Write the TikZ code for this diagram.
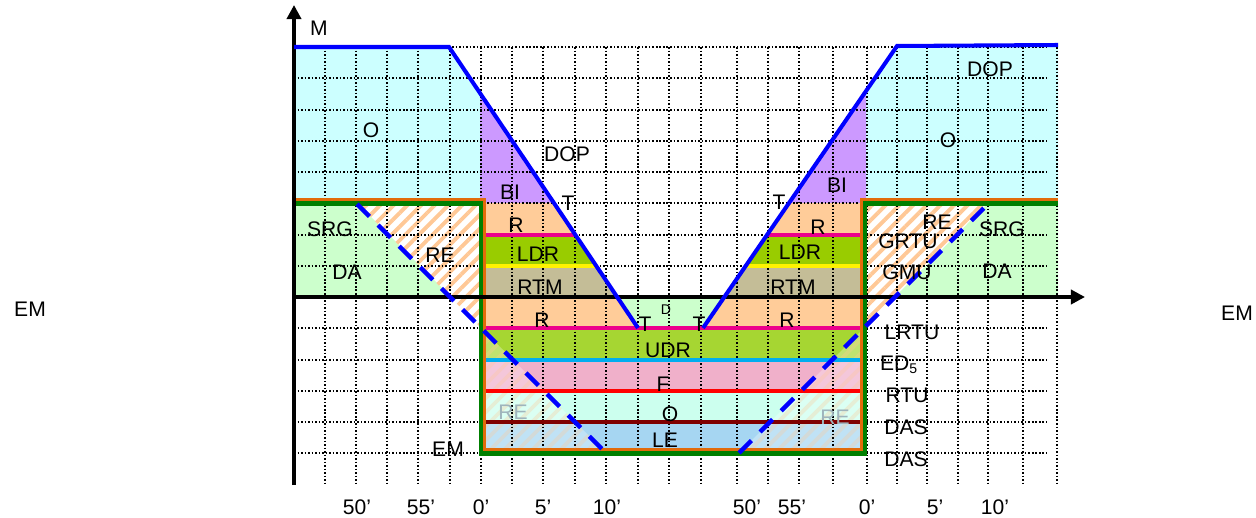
\documentclass[tikz,border=0pt]{standalone}
\usepackage{fontspec}
\setmainfont{Liberation Sans}
\usepackage{xcolor}
\usepackage{tikz}
\usetikzlibrary{arrows.meta}
\usetikzlibrary{patterns.meta}

\definecolor{zonecyan}{HTML}{CCFFFF}
\definecolor{zonepurple}{HTML}{CC99FF}
\definecolor{zonegreen}{HTML}{CCFFCC}
\definecolor{zonepeach}{HTML}{FFCC99}
\definecolor{zoneldr}{HTML}{99CC00}
\definecolor{zonertm}{HTML}{C4BD97}
\definecolor{zoneudr}{HTML}{A6D632}
\definecolor{zonepink}{HTML}{F0B0CA}
\definecolor{zonemint}{HTML}{CCFFEE}
\definecolor{zoneblue}{HTML}{A6D6F2}
\definecolor{hatchorange}{HTML}{FFC896}
\definecolor{edgeorange}{HTML}{E26B0A}
\definecolor{edgegreen}{HTML}{007F00}
\definecolor{faintlabel}{HTML}{9FB4BC}

\begin{document}
\begin{tikzpicture}[
    x=0.02cm, y=-0.02cm,
    % Zone fills
    hatch/.style={pattern={Lines[angle=45,distance=5.5pt,line width=2.2pt]}, pattern color=hatchorange},
    faint fill/.style={fill=white, fill opacity=0.3},
    faint stripe/.style={hatchorange, line width=2.2pt, draw opacity=0.3},
    % Grid and lines
    grid line/.style={dash pattern=on 0.9pt off 1.1pt, line width=0.8pt, black},
    band line/.style={line width=2pt},
    frame line/.style={line width=2.3pt},
    axis line/.style={line width=2.8pt, -{Triangle[length=8pt,width=8pt]}},
    limit line/.style={blue, line width=2.3pt},
    limit dash/.style={blue, line width=2.5pt, dash pattern=on 10pt off 7pt},
    % Labels
    zone label/.style={font=\fontsize{12}{14}\selectfont, inner sep=0pt},
    small label/.style={font=\fontsize{8}{10}\selectfont, inner sep=0pt}
  ]
  \useasboundingbox (0,0) rectangle (1256,517);

  % --- Zone fills ---
  \fill[zonecyan] (294,47) -- (449,47) -- (480,93.1) -- (480,203) -- (294,203) -- cycle;
  \fill[zonepurple] (480,93.1) -- (553.9,203) -- (480,203) -- cycle;
  \fill[zonecyan] (866,91.1) -- (897,46) -- (1058,45) -- (1058,203) -- (866,203) -- cycle;
  \fill[zonepurple] (866,91.1) -- (866,203) -- (789,203) -- cycle;
  \fill[zonegreen] (294,203) -- (357,203) -- (451,297) -- (294,297) -- cycle;
  \fill[zonegreen] (988,203) -- (1058,203) -- (1058,297) -- (895,297) -- cycle;
  \fill[hatch] (357,203) -- (480,203) -- (480,327) -- cycle;
  \fill[hatch] (988,203) -- (866,203) -- (866,326) -- cycle;

  % --- Centre bands ---
  \fill[zonepeach] (480,203) -- (553.9,203) -- (575.4,235) -- (480,235) -- cycle;
  \fill[zonepeach] (866,203) -- (789,203) -- (767,235) -- (866,235) -- cycle;
  \fill[zoneldr] (480,235) -- (575.4,235) -- (596.3,266) -- (480,266) -- cycle;
  \fill[zoneldr] (866,235) -- (767,235) -- (745.7,266) -- (866,266) -- cycle;
  \fill[zonertm] (480,266) -- (596.3,266) -- (617.2,297) -- (480,297) -- cycle;
  \fill[zonertm] (866,266) -- (745.7,266) -- (724.3,297) -- (866,297) -- cycle;
  \fill[zonepeach] (480,297) rectangle (866,328);
  \fill[zonegreen] (617.2,297) -- (724.3,297) -- (703,328) -- (638,328) -- cycle;
  \fill[zoneudr] (480,328) rectangle (866,360);
  \fill[zonepink] (480,360) rectangle (866,391);
  \fill[zonemint] (480,391) rectangle (866,422);
  \fill[zoneblue] (480,422) rectangle (866,453);

  % faint hatch inside the box
  \begin{scope}
    \clip (480,327) -- (606,453) -- (480,453) -- cycle;
    \fill[faint fill] (480,327) rectangle (606,453);
    \foreach \c in {800,814,...,1070}
      \draw[faint stripe] (\c-500,500) -- (\c-300,300);
  \end{scope}
  \begin{scope}
    \clip (866,326) -- (866,453) -- (739,453) -- cycle;
    \fill[faint fill] (739,326) rectangle (866,453);
    \foreach \c in {1060,1074,...,1330}
      \draw[faint stripe] (\c-500,500) -- (\c-300,300);
  \end{scope}

  % --- Grid ---
  \foreach \gx in {325,356,387,418,450,481,512,543,575,606,638,669,701,737,768,799,833,867,897,927,958,988,1023,1057}
    \draw[grid line] (\gx,47) -- (\gx,485);
  \foreach \gy in {47,78,110,141,172,203,235,266,297,328,360,391,422,453}
    \draw[grid line] (294,\gy) -- (1047,\gy);

  % --- Band borders ---
  \draw[band line, magenta] (483,235) -- (575.4,235) (767,235) -- (863,235);
  \draw[band line, yellow] (483,266) -- (596.3,266) (745.7,266) -- (863,266);
  \draw[band line, magenta] (483,328) -- (863,328);
  \draw[band line, cyan] (483,360) -- (863,360);
  \draw[band line, red] (483,391) -- (863,391);
  \draw[band line, red!50!black] (483,422) -- (863,422);

  % --- Frames ---
  \draw[frame line, edgeorange] (296,200) -- (484,200) -- (484,450) -- (862,450) -- (862,200) -- (1058,200);
  \draw[frame line, edgegreen] (294,203.5) -- (481,203.5) -- (481,453.5) -- (865,453.5) -- (865,203.5) -- (1058,203.5);

  % --- Axes ---
  \coordinate (origin) at (294,297);
  \coordinate (ytop) at (294,5);
  \coordinate (ybottom) at (294,485);
  \coordinate (xright) at (1085,297);
  \draw[axis line] (ybottom) -- (ytop);
  \draw[axis line] (origin) -- (xright);

  % --- Limit lines ---
  \draw[limit line] (294,47) -- (449,47) -- (638,328);
  \draw[limit line] (703,328) -- (897,46) -- (1058,45);
  \draw[limit dash] (357,204) -- (606,453);
  \draw[limit dash] (739,453) -- (988,204);

  % --- Labels ---
  \node[zone label] (mlabel) at (319,28) {M};
  \node[zone label] (emleft) at (30,309) {EM};
  \node[zone label] (emright) at (1237,313) {EM};

  \node[zone label] (oleft) at (371,130) {O};
  \node[zone label] (dopleft) at (567,154) {DOP};
  \node[zone label] (bileft) at (510,192) {BI};
  \node[zone label] (tleft) at (568,203) {T};
  \node[zone label] (rupleft) at (516,225) {R};
  \node[zone label] (ldrleft) at (538,254) {LDR};
  \node[zone label] (rtmleft) at (540,287) {RTM};
  \node[zone label] (rlowleft) at (542,320) {R};
  \node[zone label] (srgleft) at (330,229) {SRG};
  \node[zone label] (daleft) at (347,272) {DA};
  \node[zone label] (releft) at (440,255) {RE};
  \node[zone label, faintlabel] (refaintleft) at (513,412) {RE};
  \node[zone label] (embox) at (448,449) {EM};

  \node[zone label] (tmidleft) at (645,324) {T};
  \node[small label] (dmid) at (666,310) {D};
  \node[zone label] (tmidright) at (699,324) {T};
  \node[zone label] (udr) at (668,350) {UDR};
  \node[zone label] (fband) at (663,384) {F};
  \node[zone label] (oband) at (670,414) {O};
  \node[zone label] (leband) at (665,440) {LE};

  \node[zone label] (dopright) at (990,69) {DOP};
  \node[zone label] (oright) at (948,140) {O};
  \node[zone label] (biright) at (837,185) {BI};
  \node[zone label] (tright) at (779,202) {T};
  \node[zone label] (rupright) at (818,227) {R};
  \node[zone label] (ldrright) at (800,252) {LDR};
  \node[zone label] (rtmright) at (793,287) {RTM};
  \node[zone label] (rlowright) at (787,320) {R};
  \node[zone label] (reright) at (937,222) {RE};
  \node[zone label] (grtu) at (908,241) {GRTU};
  \node[zone label] (srgright) at (1002,229) {SRG};
  \node[zone label] (gmu) at (907,272) {GMU};
  \node[zone label] (daright) at (997,271) {DA};
  \node[zone label, faintlabel] (refaintright) at (835,417) {RE};

  \node[zone label] (lrtu) at (912,332) {LRTU};
  \node[zone label] (eds) at (899,365) {ED\textsubscript{5}};
  \node[zone label] (rtu) at (907,395) {RTU};
  \node[zone label] (dasup) at (906,427) {DAS};
  \node[zone label] (daslow) at (906,459) {DAS};

  % --- Minute ticks ---
  \node[zone label] (tickl50) at (357,507) {50'};
  \node[zone label] (tickl55) at (421,507) {55'};
  \node[zone label] (tickl0) at (481,507) {0'};
  \node[zone label] (tickl5) at (543,507) {5'};
  \node[zone label] (tickl10) at (607,507) {10'};
  \node[zone label] (tickr50) at (747,507) {50'};
  \node[zone label] (tickr55) at (792,507) {55'};
  \node[zone label] (tickr0) at (867,507) {0'};
  \node[zone label] (tickr5) at (935,507) {5'};
  \node[zone label] (tickr10) at (995,507) {10'};

\end{tikzpicture}
\end{document}
